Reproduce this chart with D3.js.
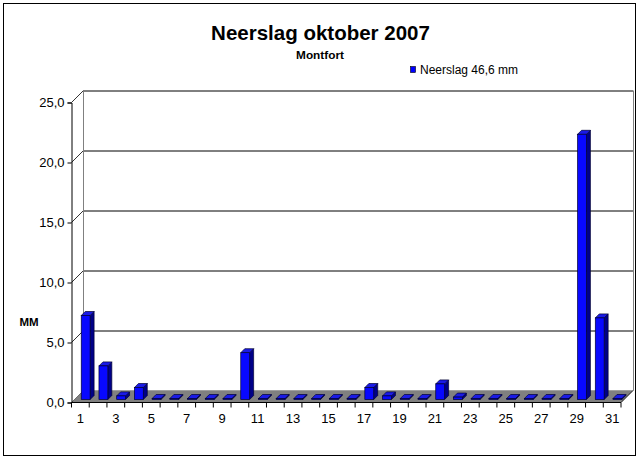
<!DOCTYPE html>
<html><head><meta charset="utf-8">
<script src="https://cdn.jsdelivr.net/npm/d3@7"></script>
<style>
body{margin:0;background:#fff;}
svg{display:block;font-family:Arial,"Liberation Sans",sans-serif;}
</style></head>
<body><svg id="c" width="640" height="461"></svg>
<script>
const days = d3.range(1, 32);
const rain = [7.0,2.8,0.3,1.0,0,0,0,0,0,3.9,0,0,0,0,0,0,1.0,0.3,0,0,1.3,0.2,0,0,0,0,0,0,22.1,6.8,0];
const yTicks = [0,5,10,15,20,25];
const title = "Neerslag oktober 2007";
const subtitle = "Montfort";
const legendLabel = "Neerslag 46,6 mm";
const yLabel = "MM";

const svg = d3.select("#c");
const D = 12;          // wall depth offset
const x0 = 71.5, x1 = 621;
const x = d3.scaleBand().domain(days).range([x0, x1]).padding(0);
const y = d3.scaleLinear().domain([0, 25]).range([402.5, 102.5]);
const fmt = v => d3.format(".1f")(v).replace(".", ",");

// outer border
svg.append("rect").attr("x",3.5).attr("y",3.5).attr("width",632).attr("height",452)
  .attr("fill","#fff").attr("stroke","#000").attr("stroke-width",1);

// titles
svg.append("text").attr("x",320.5).attr("y",40).attr("text-anchor","middle")
  .attr("font-size",20.5).attr("font-weight","bold").text(title);
svg.append("text").attr("x",320).attr("y",59).attr("text-anchor","middle")
  .attr("font-size",11.8).attr("font-weight","bold").text(subtitle);

// legend
svg.append("rect").attr("x",410.5).attr("y",66.5).attr("width",5).attr("height",6)
  .attr("fill","#0000ff").attr("stroke","#000").attr("stroke-width",0.6);
svg.append("text").attr("x",420).attr("y",74).attr("font-size",12).text(legendLabel);

// back wall gridlines
const g = svg.append("g");
yTicks.forEach(t => {
  if (t > 0) {
    g.append("line").attr("x1",x0+D).attr("x2",x1+D).attr("y1",y(t)-D+0.5).attr("y2",y(t)-D+0.5)
      .attr("stroke","#000").attr("stroke-width",1);
  }
  g.append("line").attr("x1",x0).attr("y1",y(t)).attr("x2",x0+D).attr("y2",y(t)-D)
    .attr("stroke","#000").attr("stroke-width",0.8);
});
// back wall edges
g.append("line").attr("x1",x0+D).attr("x2",x0+D).attr("y1",y(0)-D).attr("y2",y(25)-D)
  .attr("stroke","#808080");
g.append("line").attr("x1",x1+D+0.5).attr("x2",x1+D+0.5).attr("y1",y(0)-D).attr("y2",y(25)-D)
  .attr("stroke","#808080");

// floor
g.append("path").attr("d",`M${x0},${y(0)}L${x1},${y(0)}L${x1+D},${y(0)-D}L${x0+D},${y(0)-D}Z`)
  .attr("fill","#808080").attr("stroke","#808080").attr("stroke-width",0.5);

// bars
const d0 = 3, bd = 4;
const bw = x.bandwidth()*0.5;
const bars = svg.append("g");
days.forEach((d,i) => {
  const v = rain[i];
  const fx = x(d) + x.bandwidth()*0.38 + d0;
  const by = y(0) - d0;
  let ty = by - (y(0) - y(v));
  if (by - ty < 1) ty = by - 1;
  const stroke = "#000033";
  // side
  bars.append("path").attr("d",`M${fx+bw},${by}L${fx+bw+bd},${by-bd}L${fx+bw+bd},${ty-bd}L${fx+bw},${ty}Z`)
    .attr("fill","#000088").attr("stroke",stroke).attr("stroke-width",0.7).attr("stroke-linejoin","round");
  // top
  bars.append("path").attr("d",`M${fx},${ty}L${fx+bd},${ty-bd}L${fx+bw+bd},${ty-bd}L${fx+bw},${ty}Z`)
    .attr("fill","#1a1ae6").attr("stroke",stroke).attr("stroke-width",0.7).attr("stroke-linejoin","round");
  // front
  bars.append("rect").attr("x",fx).attr("y",ty).attr("width",bw).attr("height",by-ty)
    .attr("fill","#0808ff").attr("stroke",stroke).attr("stroke-width",0.7);
});

// y axis
const yAxis = d3.axisLeft(y).tickValues(yTicks).tickFormat(fmt).tickSize(4).tickPadding(3);
const ya = svg.append("g").attr("transform",`translate(${x0},0)`).call(yAxis);
ya.select(".domain").attr("stroke","#000");
ya.selectAll("text").attr("font-size",13).attr("font-family","Arial,'Liberation Sans',sans-serif").attr("fill","#000");

// x axis
const xa = svg.append("g").attr("transform",`translate(0,${y(0)})`);
xa.append("line").attr("x1",x0).attr("x2",x1).attr("stroke","#000");
const xAxis = d3.axisBottom(x).tickFormat(d => d % 2 === 1 ? d : "").tickSize(0).tickPadding(11);
const xl = svg.append("g").attr("transform",`translate(0,${y(0)})`).call(xAxis);
xl.select(".domain").remove();
xl.selectAll("text").attr("font-size",13).attr("font-family","Arial,'Liberation Sans',sans-serif").attr("fill","#000");
xa.selectAll("line.tk").data(days.concat([32])).enter().append("line").attr("class","tk")
  .attr("x1",d => d<=31 ? x(d) : x1).attr("x2",d => d<=31 ? x(d) : x1)
  .attr("y1",0).attr("y2",5).attr("stroke","#000");
// floor right edge
g.append("line").attr("x1",x1).attr("y1",y(0)).attr("x2",x1+D).attr("y2",y(0)-D).attr("stroke","#000").attr("stroke-width",0.8);

// y label
svg.append("text").attr("x",29).attr("y",326).attr("text-anchor","middle")
  .attr("font-size",11.5).attr("font-weight","bold").text(yLabel);
</script></body></html>
